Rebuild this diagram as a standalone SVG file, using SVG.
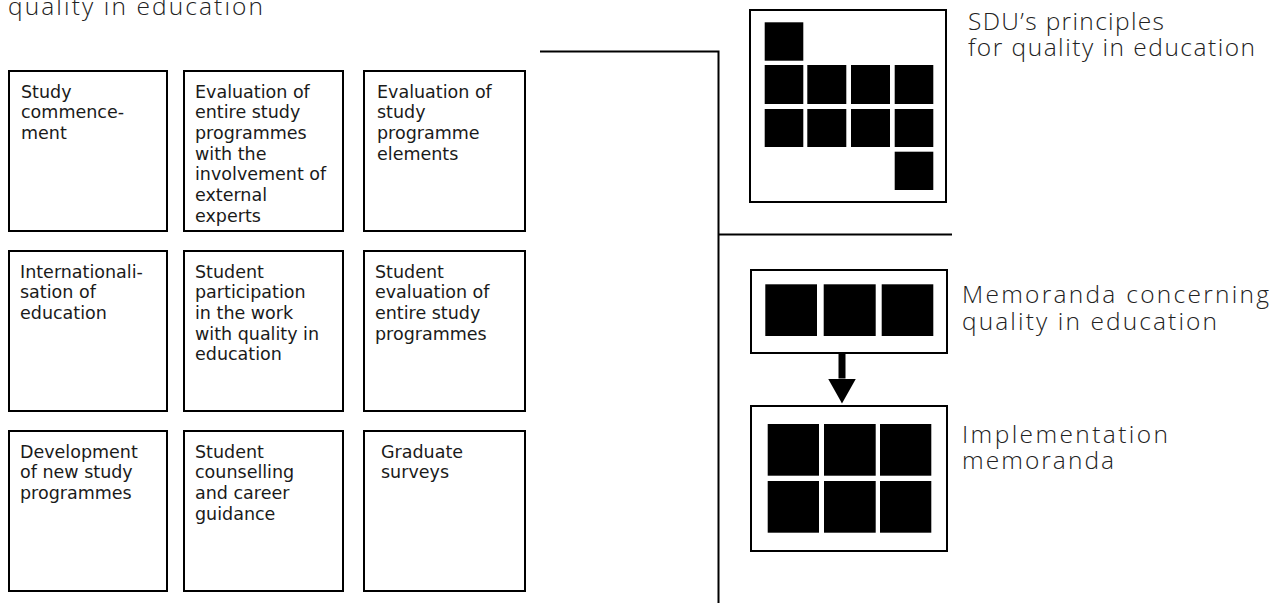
<svg xmlns="http://www.w3.org/2000/svg" width="1280" height="603" viewBox="0 0 1280 603">
<style>
.box{fill:#fff;stroke:#000;stroke-width:2}
.sq{fill:#000}
.lbl{font-family:"DejaVu Sans","Liberation Sans",sans-serif;font-size:17.5px;fill:#1a1a1a}
.ttl{font-family:"Open Sans","DejaVu Sans",sans-serif;font-weight:300;font-size:24.5px;fill:#222}
.con{fill:none;stroke:#000;stroke-width:2}
</style>
<defs>
<marker id="tri" markerUnits="userSpaceOnUse" viewBox="0 0 26 28" markerWidth="26" markerHeight="28" refX="0" refY="14" orient="auto">
<path d="M0,0 L25,14 L0,28 Z" fill="#000"/>
</marker>
</defs>
<rect width="1280" height="603" fill="#fff"/>

<text class="ttl" x="8" y="15" textLength="255" lengthAdjust="spacing">quality in education</text>

<g id="connectors">
<polyline class="con" points="540,51.5 718.5,51.5 718.5,603"/>
<line class="con" x1="718.5" y1="234.5" x2="952" y2="234.5"/>
<line x1="842" y1="354" x2="842" y2="378.5" stroke="#000" stroke-width="7" marker-end="url(#tri)"/>
</g>

<g id="n-study-commencement">
<rect class="box" x="9" y="71" width="158" height="160"/>
<text class="lbl" x="21" y="97.5"><tspan x="21">Study</tspan><tspan x="21" dy="20.7">commence-</tspan><tspan x="21" dy="20.7">ment</tspan></text>
</g>
<g id="n-eval-entire">
<rect class="box" x="184" y="71" width="159" height="160"/>
<text class="lbl" x="195" y="97.5"><tspan x="195">Evaluation of</tspan><tspan x="195" dy="20.7">entire study</tspan><tspan x="195" dy="20.7">programmes</tspan><tspan x="195" dy="20.7">with the</tspan><tspan x="195" dy="20.7">involvement of</tspan><tspan x="195" dy="20.7">external</tspan><tspan x="195" dy="20.7">experts</tspan></text>
</g>
<g id="n-eval-elements">
<rect class="box" x="364" y="71" width="161" height="160"/>
<text class="lbl" x="377" y="97.5"><tspan x="377">Evaluation of</tspan><tspan x="377" dy="20.7">study</tspan><tspan x="377" dy="20.7">programme</tspan><tspan x="377" dy="20.7">elements</tspan></text>
</g>

<g id="n-internationalisation">
<rect class="box" x="9" y="251" width="158" height="160"/>
<text class="lbl" x="20" y="277.5"><tspan x="20">Internationali-</tspan><tspan x="20" dy="20.7">sation of</tspan><tspan x="20" dy="20.7">education</tspan></text>
</g>
<g id="n-student-participation">
<rect class="box" x="184" y="251" width="159" height="160"/>
<text class="lbl" x="195" y="277.5"><tspan x="195">Student</tspan><tspan x="195" dy="20.7">participation</tspan><tspan x="195" dy="20.7">in the work</tspan><tspan x="195" dy="20.7">with quality in</tspan><tspan x="195" dy="20.7">education</tspan></text>
</g>
<g id="n-student-evaluation">
<rect class="box" x="364" y="251" width="161" height="160"/>
<text class="lbl" x="375" y="277.5"><tspan x="375">Student</tspan><tspan x="375" dy="20.7">evaluation of</tspan><tspan x="375" dy="20.7">entire study</tspan><tspan x="375" dy="20.7">programmes</tspan></text>
</g>

<g id="n-development">
<rect class="box" x="9" y="431" width="158" height="160"/>
<text class="lbl" x="20" y="457.5"><tspan x="20">Development</tspan><tspan x="20" dy="20.7">of new study</tspan><tspan x="20" dy="20.7">programmes</tspan></text>
</g>
<g id="n-counselling">
<rect class="box" x="184" y="431" width="159" height="160"/>
<text class="lbl" x="195" y="457.5"><tspan x="195">Student</tspan><tspan x="195" dy="20.7">counselling</tspan><tspan x="195" dy="20.7">and career</tspan><tspan x="195" dy="20.7">guidance</tspan></text>
</g>
<g id="n-graduate">
<rect class="box" x="364" y="431" width="161" height="160"/>
<text class="lbl" x="381" y="457.5"><tspan x="381">Graduate</tspan><tspan x="381" dy="20.7">surveys</tspan></text>
</g>

<g id="n-principles">
<rect class="box" x="750" y="10" width="196" height="192"/>
<rect class="sq" x="764.7" y="22.3" width="38.6" height="38.4"/>
<rect class="sq" x="764.7" y="65" width="38.6" height="39"/>
<rect class="sq" x="807.3" y="65" width="39" height="39"/>
<rect class="sq" x="851" y="65" width="39" height="39"/>
<rect class="sq" x="894.7" y="65" width="38.6" height="39"/>
<rect class="sq" x="764.7" y="109" width="38.6" height="38"/>
<rect class="sq" x="807.3" y="109" width="39" height="38"/>
<rect class="sq" x="851" y="109" width="39" height="38"/>
<rect class="sq" x="894.7" y="109" width="38.6" height="38"/>
<rect class="sq" x="894.7" y="151.7" width="38.6" height="38.3"/>
<text class="ttl" x="968" y="30"><tspan x="968" textLength="196" lengthAdjust="spacing">SDU’s principles</tspan><tspan x="968" y="56" textLength="287" lengthAdjust="spacing">for quality in education</tspan></text>
</g>

<g id="n-memoranda">
<rect class="box" x="751" y="270" width="196" height="83"/>
<rect class="sq" x="765.3" y="284.3" width="51.7" height="51.7"/>
<rect class="sq" x="823.7" y="284.3" width="52" height="51.7"/>
<rect class="sq" x="881.7" y="284.3" width="51.6" height="51.7"/>
<text class="ttl" x="962" y="303"><tspan x="962" textLength="307" lengthAdjust="spacing">Memoranda concerning</tspan><tspan x="962" y="329.5" textLength="255" lengthAdjust="spacing">quality in education</tspan></text>
</g>

<g id="n-implementation">
<rect class="box" x="751" y="406" width="196" height="145"/>
<rect class="sq" x="767.7" y="424" width="51.3" height="51.7"/>
<rect class="sq" x="824" y="424" width="51.7" height="51.7"/>
<rect class="sq" x="880" y="424" width="51.3" height="51.7"/>
<rect class="sq" x="767.7" y="481" width="51.3" height="51.7"/>
<rect class="sq" x="824" y="481" width="51.7" height="51.7"/>
<rect class="sq" x="880" y="481" width="51.3" height="51.7"/>
<text class="ttl" x="962" y="443"><tspan x="962" textLength="206" lengthAdjust="spacing">Implementation</tspan><tspan x="962" y="469" textLength="152" lengthAdjust="spacing">memoranda</tspan></text>
</g>
</svg>
